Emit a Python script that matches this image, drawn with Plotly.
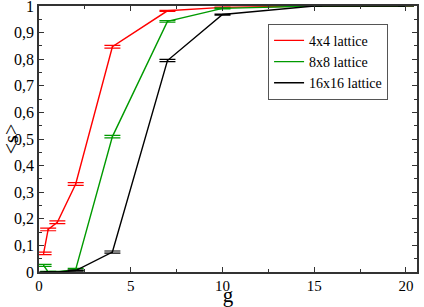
import plotly.graph_objects as go

g_vals = [0.25, 0.5, 1, 2, 4, 7, 10, 15, 20]
s_4x4 = [0.07, 0.16, 0.187, 0.331, 0.847, 0.982, 0.995, 1.0, 1.0]
s_8x8 = [0.025, 0.0, 0.0, 0.01, 0.509, 0.942, 0.991, 1.0, 1.0]
s_16x16 = [0.0, 0.0, 0.0, 0.005, 0.075, 0.795, 0.968, 1.0, 1.0]
err_4x4 = [0.005, 0.005, 0.005, 0.005, 0.005, 0.002, 0.001, 0.0, 0.0]
err_8x8 = [0.004, 0.002, 0.002, 0.004, 0.005, 0.003, 0.002, 0.0, 0.0]
err_16x16 = [0.0, 0.0, 0.0, 0.002, 0.004, 0.004, 0.002, 0.0, 0.0]
names = ["4x4 lattice", "8x8 lattice", "16x16 lattice"]
colors = ["#ff0000", "#009a00", "#000000"]

fig = go.Figure()
for name, ys, es, c in zip(names, [s_4x4, s_8x8, s_16x16], [err_4x4, err_8x8, err_16x16], colors):
    fig.add_trace(go.Scatter(
        x=g_vals, y=ys, mode="lines", name=name,
        line=dict(color=c, width=1.4),
        error_y=dict(type="data", array=es, color=c, thickness=1.2, width=8, visible=True),
    ))

FAM = "Times New Roman"
fig.update_layout(
    width=424, height=307,
    margin=dict(l=39, r=7, t=6, b=35, autoexpand=False),
    paper_bgcolor="white", plot_bgcolor="white",
    separators=", ",
    font=dict(family=FAM, color="black", size=15),
    showlegend=True,
    legend=dict(x=0.606, y=0.933, xanchor="left", yanchor="top",
                bordercolor="#555555", borderwidth=1, bgcolor="white",
                font=dict(family=FAM, color="black", size=14), tracegroupgap=0,
                itemwidth=30),
    xaxis=dict(range=[0, 20.6], tickvals=[0, 5, 10, 15, 20], ticks="inside",
               ticklen=5, tickcolor="#333333", showline=True, linecolor="#333333",
               linewidth=1.5, mirror="ticks", showgrid=False, zeroline=False,
               ticklabeloverflow="allow", automargin=False, ticklabelstandoff=-1,
               minor=dict(tickvals=[2.5, 7.5, 12.5, 17.5], ticks="inside", ticklen=3, tickcolor="#333333"),
               title=dict(text="g", font=dict(family=FAM, color="black", size=21), standoff=6),
               tickfont=dict(family=FAM, color="black", size=15)),
    yaxis=dict(range=[0, 1], tickvals=[0, 0.1, 0.2, 0.3, 0.4, 0.5, 0.6, 0.7, 0.8, 0.9, 1],
               ticktext=["0", "0,1", "0,2", "0,3", "0,4", "0,5", "0,6", "0,7", "0,8", "0,9", "1"],
               ticks="inside", ticklen=5, tickcolor="#333333", showline=True,
               linecolor="#333333", linewidth=1.5, mirror="ticks", showgrid=False,
               zeroline=False, ticklabeloverflow="allow", automargin=False,
               minor=dict(tickvals=[0.05, 0.15, 0.25, 0.35, 0.45, 0.55, 0.65, 0.75, 0.85, 0.95],
                          ticks="inside", ticklen=3, tickcolor="#333333"),
               title=dict(text="&lt;s&gt;", font=dict(family=FAM, color="black", size=20), standoff=0),
               tickfont=dict(family=FAM, color="black", size=16)),
)
fig.write_html("out.html", config={"displayModeBar": False},
               post_script="document.body.style.margin='0';document.body.style.overflow='hidden';")
